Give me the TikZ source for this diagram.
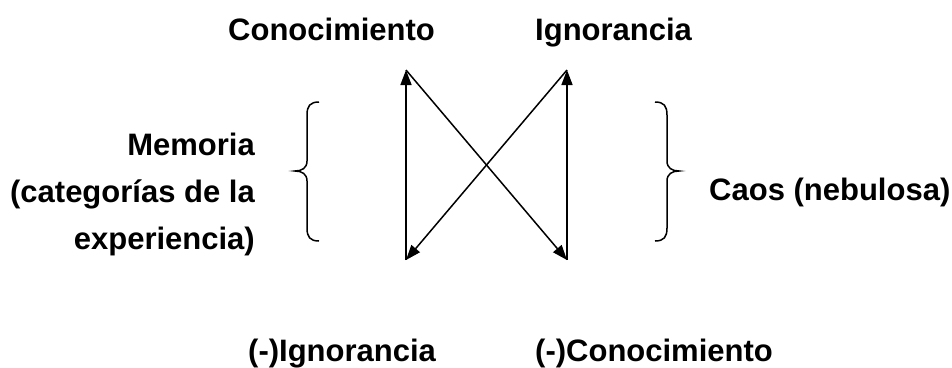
\documentclass[tikz,border=0pt]{standalone}
\usepackage{fontspec}
\setmainfont{Liberation Sans}
\usetikzlibrary{arrows.meta}
\begin{document}
\begin{tikzpicture}[x=1pt,y=-1pt,
  lbl/.style={font=\fontsize{31}{47}\selectfont\bfseries, inner sep=0pt},
  arr/.style={line width=1.5pt, -{Triangle[length=15pt,width=11pt]}},
  brc/.style={line width=1.5pt}]
\useasboundingbox (0,0) rectangle (952,367);
% labels
\node[lbl, anchor=base west] (con) at (228,40) {Conocimiento};
\node[lbl, anchor=base west] (ign) at (535,40) {Ignorancia};
\node[lbl, anchor=base east] (mem1) at (255,155) {Memoria};
\node[lbl, anchor=base east] (mem2) at (255,202) {(categorías de la};
\node[lbl, anchor=base east] (mem3) at (255,249) {experiencia)};
\node[lbl, anchor=base west] (caos) at (709,200) {Caos (nebulosa)};
\node[lbl, anchor=base west] (nign) at (248,361) {(-)Ignorancia};
\node[lbl, anchor=base west] (ncon) at (535,361) {(-)Conocimiento};
% arrow ends
\coordinate (lt) at (406,70);
\coordinate (lb) at (406,260);
\coordinate (rt) at (567,70);
\coordinate (rb) at (567,260);
\draw[arr] (lb) -- (lt);
\draw[arr] (rb) -- (rt);
\draw[arr] (lt) -- (rb);
\draw[arr] (rt) -- (lb);
% braces
\draw[brc] (319,102) .. controls (310,102) and (307,106) .. (307,115) -- (307,161)
  .. controls (307,168) and (302,171) .. (295,171)
  .. controls (302,171) and (307,174) .. (307,181) -- (307,228)
  .. controls (307,237) and (310,241) .. (319,241);
\draw[brc] (655,102) .. controls (664,102) and (667,106) .. (667,115) -- (667,161)
  .. controls (667,168) and (672,171) .. (679,171)
  .. controls (672,171) and (667,174) .. (667,181) -- (667,228)
  .. controls (667,237) and (664,241) .. (655,241);
\end{tikzpicture}
\end{document}
